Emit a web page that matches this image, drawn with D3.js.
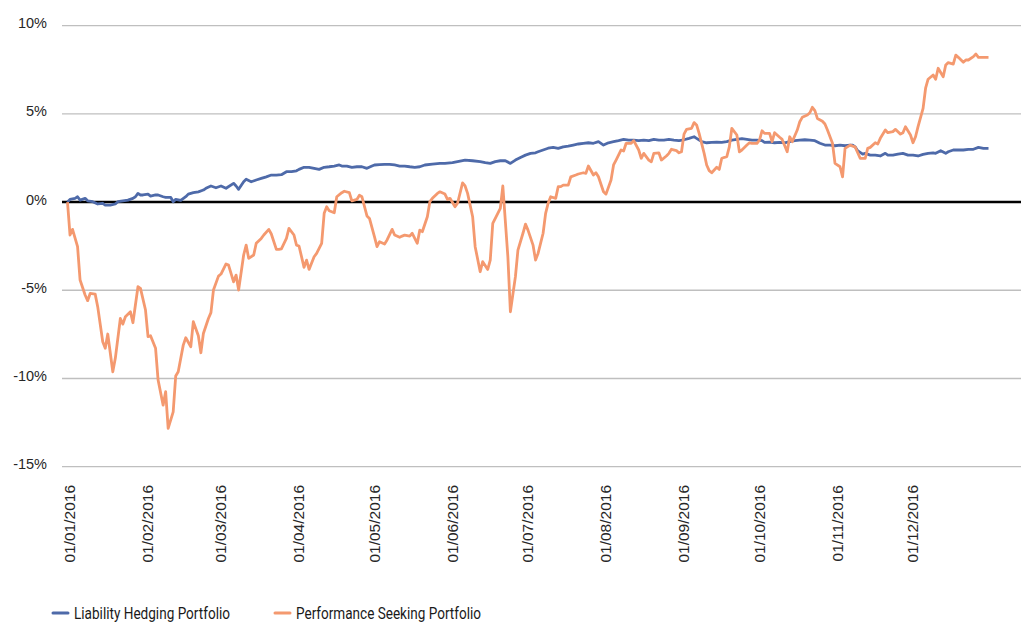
<!DOCTYPE html>
<html>
<head>
<meta charset="utf-8">
<script src="https://cdn.jsdelivr.net/npm/d3@7"></script>
<style>
  body { margin: 0; background: #fff; }
  #chart { width: 1021px; height: 623px; }
  .tick-label { font-family: "Liberation Sans", Arial, sans-serif; font-size: 14.5px; fill: #262626; }
  .x-label { font-size: 15.5px; }
  .legend-text { font-family: Roboto, "Noto Sans", sans-serif; font-size: 16px; fill: #1a1a1a; }
</style>
</head>
<body>
<div id="chart"></div>
<script>
////////////////////////////  Data  ////////////////////////////
const seriesNames = ["Liability Hedging Portfolio", "Performance Seeking Portfolio"];
const yTicks = [-15, -10, -5, 0, 5, 10];
const monthTicks = ["2016-01-01", "2016-02-01", "2016-03-01", "2016-04-01", "2016-05-01", "2016-06-01",
  "2016-07-01", "2016-08-01", "2016-09-01", "2016-10-01", "2016-11-01", "2016-12-01"];

// Liability Hedging Portfolio, cumulative return %
const lhpDates = ["2015-12-31", "2016-01-01", "2016-01-03", "2016-01-04", "2016-01-05", "2016-01-07", "2016-01-08",
  "2016-01-10", "2016-01-12", "2016-01-14", "2016-01-15", "2016-01-17", "2016-01-19", "2016-01-20", "2016-01-22",
  "2016-01-24", "2016-01-26", "2016-01-27", "2016-01-28", "2016-01-29", "2016-01-30", "2016-02-01", "2016-02-02",
  "2016-02-04", "2016-02-05", "2016-02-07", "2016-02-08", "2016-02-10", "2016-02-11", "2016-02-12", "2016-02-14",
  "2016-02-16", "2016-02-17", "2016-02-19", "2016-02-21", "2016-02-23", "2016-02-24", "2016-02-26", "2016-02-28",
  "2016-03-01", "2016-03-03", "2016-03-06", "2016-03-07", "2016-03-08", "2016-03-10", "2016-03-11", "2016-03-13",
  "2016-03-15", "2016-03-17", "2016-03-19", "2016-03-21", "2016-03-23", "2016-03-25", "2016-03-27", "2016-03-29",
  "2016-03-31", "2016-04-01", "2016-04-03", "2016-04-05", "2016-04-07", "2016-04-09", "2016-04-11", "2016-04-13",
  "2016-04-15", "2016-04-17", "2016-04-18", "2016-04-20", "2016-04-22", "2016-04-24", "2016-04-26", "2016-04-28",
  "2016-04-30", "2016-05-01", "2016-05-03", "2016-05-05", "2016-05-07", "2016-05-09", "2016-05-11", "2016-05-13",
  "2016-05-15", "2016-05-17", "2016-05-19", "2016-05-21", "2016-05-24", "2016-05-27", "2016-05-29", "2016-06-01",
  "2016-06-04", "2016-06-06", "2016-06-09", "2016-06-12", "2016-06-14", "2016-06-16", "2016-06-18", "2016-06-20",
  "2016-06-22", "2016-06-24", "2016-06-26", "2016-06-28", "2016-06-30", "2016-07-02", "2016-07-04", "2016-07-05",
  "2016-07-07", "2016-07-09", "2016-07-11", "2016-07-13", "2016-07-15", "2016-07-17", "2016-07-19", "2016-07-21",
  "2016-07-23", "2016-07-25", "2016-07-27", "2016-07-29", "2016-07-31", "2016-08-02", "2016-08-04", "2016-08-06",
  "2016-08-08", "2016-08-10", "2016-08-12", "2016-08-14", "2016-08-16", "2016-08-18", "2016-08-20", "2016-08-22",
  "2016-08-24", "2016-08-26", "2016-08-28", "2016-08-30", "2016-09-01", "2016-09-03", "2016-09-05", "2016-09-06",
  "2016-09-08", "2016-09-10", "2016-09-12", "2016-09-14", "2016-09-16", "2016-09-18", "2016-09-20", "2016-09-22",
  "2016-09-24", "2016-09-26", "2016-09-28", "2016-09-30", "2016-10-02", "2016-10-03", "2016-10-05", "2016-10-07",
  "2016-10-09", "2016-10-11", "2016-10-13", "2016-10-15", "2016-10-17", "2016-10-19", "2016-10-21", "2016-10-23",
  "2016-10-25", "2016-10-27", "2016-10-29", "2016-10-31", "2016-11-02", "2016-11-04", "2016-11-06", "2016-11-07",
  "2016-11-08", "2016-11-09", "2016-11-11", "2016-11-12", "2016-11-14", "2016-11-16", "2016-11-18", "2016-11-20",
  "2016-11-21", "2016-11-23", "2016-11-25", "2016-11-27", "2016-11-29", "2016-12-01", "2016-12-03", "2016-12-05",
  "2016-12-07", "2016-12-09", "2016-12-10", "2016-12-12", "2016-12-14", "2016-12-15", "2016-12-17", "2016-12-19",
  "2016-12-21", "2016-12-23", "2016-12-25", "2016-12-27", "2016-12-29", "2016-12-31"];
const lhpValues = [0, 0.15, 0.21, 0.30, 0.11, 0.21, 0.07,
  0.02, -0.11, -0.07, -0.17, -0.17, -0.11, 0.02, 0.07,
  0.11, 0.21, 0.30, 0.49, 0.40, 0.40, 0.45, 0.34,
  0.40, 0.40, 0.30, 0.27, 0.27, 0.02, 0.15, 0.09,
  0.30, 0.45, 0.53, 0.58, 0.68, 0.78, 0.91, 0.81,
  0.91, 0.78, 1.06, 0.91, 0.72, 1.15, 1.29, 1.15,
  1.25, 1.34, 1.43, 1.53, 1.53, 1.55, 1.72, 1.72,
  1.77, 1.85, 1.97, 1.97, 1.91, 1.85, 1.97, 2.00,
  2.04, 2.10, 2.04, 2.04, 1.97, 2.00, 2.00, 1.91,
  2.04, 2.10, 2.12, 2.14, 2.14, 2.10, 2.04, 2.04,
  2.00, 1.97, 2.00, 2.10, 2.15, 2.19, 2.19, 2.23,
  2.32, 2.38, 2.34, 2.29, 2.23, 2.19, 2.29, 2.34,
  2.34, 2.19, 2.38, 2.53, 2.66, 2.76, 2.79, 2.85,
  2.95, 3.05, 3.10, 3.04, 3.13, 3.17, 3.23, 3.29,
  3.33, 3.36, 3.33, 3.42, 3.23, 3.36, 3.42, 3.48,
  3.55, 3.51, 3.51, 3.48, 3.51, 3.48, 3.55, 3.51,
  3.51, 3.55, 3.51, 3.48, 3.53, 3.61, 3.70, 3.61,
  3.42, 3.36, 3.38, 3.40, 3.38, 3.42, 3.51, 3.55,
  3.59, 3.55, 3.51, 3.51, 3.48, 3.38, 3.40, 3.36,
  3.38, 3.36, 3.42, 3.48, 3.51, 3.53, 3.51, 3.48,
  3.33, 3.23, 3.23, 3.19, 3.23, 3.19, 3.23, 3.23,
  3.13, 2.91, 2.72, 2.76, 2.66, 2.66, 2.61, 2.76,
  2.66, 2.66, 2.72, 2.76, 2.66, 2.66, 2.61, 2.70,
  2.76, 2.79, 2.76, 2.91, 2.76, 2.85, 2.95, 2.95,
  2.95, 2.99, 2.99, 3.10, 3.04, 3.04];

// Performance Seeking Portfolio, cumulative return %
const pspDates = ["2015-12-31", "2016-01-01", "2016-01-02", "2016-01-04", "2016-01-05", "2016-01-07", "2016-01-08",
  "2016-01-09", "2016-01-11", "2016-01-12", "2016-01-14", "2016-01-15", "2016-01-16", "2016-01-18", "2016-01-19",
  "2016-01-21", "2016-01-22", "2016-01-23", "2016-01-25", "2016-01-26", "2016-01-28", "2016-01-29", "2016-01-31",
  "2016-02-01", "2016-02-02", "2016-02-04", "2016-02-05", "2016-02-07", "2016-02-08", "2016-02-09", "2016-02-11",
  "2016-02-12", "2016-02-13", "2016-02-15", "2016-02-16", "2016-02-18", "2016-02-19", "2016-02-21", "2016-02-22",
  "2016-02-23", "2016-02-25", "2016-02-26", "2016-02-27", "2016-02-29", "2016-03-01", "2016-03-03", "2016-03-04",
  "2016-03-06", "2016-03-07", "2016-03-08", "2016-03-10", "2016-03-11", "2016-03-12", "2016-03-14", "2016-03-15",
  "2016-03-17", "2016-03-18", "2016-03-20", "2016-03-21", "2016-03-23", "2016-03-24", "2016-03-25", "2016-03-27",
  "2016-03-28", "2016-03-30", "2016-03-31", "2016-04-01", "2016-04-03", "2016-04-04", "2016-04-05", "2016-04-07",
  "2016-04-08", "2016-04-10", "2016-04-11", "2016-04-12", "2016-04-13", "2016-04-15", "2016-04-16", "2016-04-18",
  "2016-04-19", "2016-04-21", "2016-04-22", "2016-04-24", "2016-04-25", "2016-04-26", "2016-04-28", "2016-04-29",
  "2016-05-01", "2016-05-02", "2016-05-03", "2016-05-05", "2016-05-06", "2016-05-08", "2016-05-09", "2016-05-11",
  "2016-05-12", "2016-05-13", "2016-05-15", "2016-05-16", "2016-05-18", "2016-05-19", "2016-05-20", "2016-05-22",
  "2016-05-23", "2016-05-24", "2016-05-26", "2016-05-27", "2016-05-29", "2016-05-30", "2016-05-31", "2016-06-02",
  "2016-06-03", "2016-06-05", "2016-06-06", "2016-06-07", "2016-06-09", "2016-06-10", "2016-06-12", "2016-06-13",
  "2016-06-15", "2016-06-16", "2016-06-17", "2016-06-19", "2016-06-20", "2016-06-21", "2016-06-23", "2016-06-24",
  "2016-06-26", "2016-06-27", "2016-06-29", "2016-06-30", "2016-07-01", "2016-07-03", "2016-07-04", "2016-07-05",
  "2016-07-07", "2016-07-08", "2016-07-09", "2016-07-10", "2016-07-12", "2016-07-13", "2016-07-14", "2016-07-15",
  "2016-07-17", "2016-07-18", "2016-07-20", "2016-07-21", "2016-07-23", "2016-07-24", "2016-07-25", "2016-07-27",
  "2016-07-28", "2016-07-29", "2016-07-31", "2016-08-01", "2016-08-03", "2016-08-04", "2016-08-05", "2016-08-07",
  "2016-08-08", "2016-08-09", "2016-08-11", "2016-08-12", "2016-08-14", "2016-08-15", "2016-08-16", "2016-08-18",
  "2016-08-19", "2016-08-20", "2016-08-22", "2016-08-23", "2016-08-25", "2016-08-26", "2016-08-27", "2016-08-29",
  "2016-08-30", "2016-08-31", "2016-09-01", "2016-09-02", "2016-09-04", "2016-09-05", "2016-09-06", "2016-09-07",
  "2016-09-09", "2016-09-10", "2016-09-11", "2016-09-12", "2016-09-14", "2016-09-15", "2016-09-16", "2016-09-18",
  "2016-09-19", "2016-09-20", "2016-09-22", "2016-09-23", "2016-09-24", "2016-09-26", "2016-09-27", "2016-09-28",
  "2016-09-30", "2016-10-01", "2016-10-02", "2016-10-03", "2016-10-05", "2016-10-06", "2016-10-07", "2016-10-09",
  "2016-10-10", "2016-10-12", "2016-10-13", "2016-10-14", "2016-10-16", "2016-10-17", "2016-10-18", "2016-10-20",
  "2016-10-21", "2016-10-22", "2016-10-23", "2016-10-24", "2016-10-26", "2016-10-27", "2016-10-28", "2016-10-30",
  "2016-10-31", "2016-11-02", "2016-11-03", "2016-11-04", "2016-11-06", "2016-11-07", "2016-11-08", "2016-11-10",
  "2016-11-12", "2016-11-13", "2016-11-14", "2016-11-16", "2016-11-17", "2016-11-18", "2016-11-20", "2016-11-21",
  "2016-11-23", "2016-11-24", "2016-11-26", "2016-11-27", "2016-11-28", "2016-11-30", "2016-12-01", "2016-12-02",
  "2016-12-03", "2016-12-05", "2016-12-06", "2016-12-07", "2016-12-09", "2016-12-10", "2016-12-11", "2016-12-13",
  "2016-12-14", "2016-12-15", "2016-12-17", "2016-12-18", "2016-12-19", "2016-12-21", "2016-12-22", "2016-12-23",
  "2016-12-25", "2016-12-26", "2016-12-27", "2016-12-29", "2016-12-31"];
const pspValues = [0, -1.87, -1.55, -2.53, -4.42, -5.27, -5.59,
  -5.18, -5.22, -5.93, -7.92, -8.29, -7.48, -9.62, -8.86,
  -6.60, -6.92, -6.50, -6.22, -6.84, -4.80, -4.89, -6.12,
  -7.63, -7.58, -8.29, -10.09, -11.51, -10.75, -12.83, -11.89,
  -9.86, -9.62, -8.11, -7.69, -8.20, -6.78, -7.58, -8.54,
  -7.45, -6.60, -6.27, -4.99, -4.20, -4.08, -3.51, -3.57,
  -4.52, -4.14, -4.99, -3.00, -2.44, -3.19, -3.00, -2.34,
  -2.06, -1.87, -1.55, -1.81, -2.68, -2.68, -2.65, -2.06,
  -1.49, -1.87, -2.44, -2.49, -3.70, -3.29, -3.82, -3.10,
  -2.91, -2.34, -0.64, -0.27, -0.49, -0.61, 0.30, 0.53,
  0.61, 0.53, 0.07, 0.15, 0.38, 0.30, -0.79, -0.93,
  -1.97, -2.53, -2.25, -2.38, -2.15, -1.55, -1.87, -2.00,
  -1.93, -1.87, -1.93, -1.77, -2.34, -1.59, -1.68, -0.83,
  0.02, 0.21, 0.49, 0.58, 0.45, 0.15, 0.21, -0.27,
  -0.07, 1.09, 0.91, 0.49, -0.83, -2.53, -3.95, -3.38,
  -3.82, -3.29, -1.21, -0.64, -0.36, 0.91, -3.10, -6.22,
  -4.23, -2.72, -1.77, -1.25, -1.59, -2.44, -3.29, -2.91,
  -1.77, -0.64, -0.07, 0.30, 0.21, 0.87, 0.87, 0.96,
  0.96, 1.43, 1.53, 1.59, 1.66, 1.63, 2.04, 1.53,
  1.66, 1.43, 0.58, 0.45, 1.25, 2.10, 2.38, 2.95,
  2.89, 3.33, 3.33, 3.48, 2.95, 2.48, 2.76, 2.38,
  2.28, 2.76, 2.79, 2.38, 2.61, 2.76, 2.99, 2.91,
  2.79, 2.85, 3.85, 4.12, 4.18, 4.50, 4.37, 3.89,
  2.76, 2.10, 1.78, 1.66, 1.97, 1.85, 2.48, 2.57,
  3.13, 4.18, 3.80, 2.85, 2.95, 3.23, 3.36, 3.33,
  3.33, 3.51, 4.04, 3.89, 3.89, 3.42, 3.93, 3.67,
  3.55, 2.85, 3.70, 3.42, 4.08, 4.55, 4.80, 4.93,
  5.06, 5.37, 5.18, 4.74, 4.58, 4.42, 4.08, 3.33,
  2.19, 2.00, 1.43, 3.04, 3.23, 3.17, 3.13, 2.48,
  2.48, 3.04, 3.10, 3.36, 3.29, 3.61, 4.08, 3.93,
  3.99, 4.12, 3.85, 3.93, 4.27, 3.80, 3.36, 3.70,
  4.27, 5.31, 6.45, 6.96, 7.20, 6.96, 7.58, 7.10,
  7.77, 7.90, 7.82, 8.33, 8.20, 7.92, 8.05, 8.05,
  8.24, 8.39, 8.20, 8.20, 8.20];

////////////////////////////  Init  ////////////////////////////
const width = 1021;
const height = 623;
const colors = ["#4e6aa9", "#f4996f"];

const svg = d3.select("#chart").append("svg")
  .attr("width", width)
  .attr("height", height);

const parseDate = d3.timeParse("%Y-%m-%d");
const formatTick = d3.timeFormat("%d/%m/%Y");

const series = [
  { name: seriesNames[0], values: lhpDates.map((d, i) => ({ date: parseDate(d), value: lhpValues[i] })) },
  { name: seriesNames[1], values: pspDates.map((d, i) => ({ date: parseDate(d), value: pspValues[i] })) }
];

// scales
const xScale = d3.scaleTime()
  .domain([parseDate("2015-12-31"), parseDate("2016-12-31")])
  .range([67.5, 988.5]);
const yScale = d3.scaleLinear().domain([-15, 10]).range([466.7, 25.6]);

// gridlines
svg.append("g")
  .selectAll("line")
  .data(yTicks.filter((d) => d !== 0))
  .join("line")
  .attr("x1", 62)
  .attr("x2", width)
  .attr("y1", (d) => yScale(d))
  .attr("y2", (d) => yScale(d))
  .attr("stroke", "#bfbfbf")
  .attr("stroke-width", 1.3);

// y labels
svg.append("g")
  .selectAll("text")
  .data(yTicks)
  .join("text")
  .attr("class", "tick-label")
  .attr("x", 47)
  .attr("y", (d) => yScale(d))
  .attr("dy", "0.18em")
  .attr("text-anchor", "end")
  .text((d) => d + "%");

// zero line
svg.append("line")
  .attr("x1", 62)
  .attr("x2", width)
  .attr("y1", yScale(0))
  .attr("y2", yScale(0))
  .attr("stroke", "#000")
  .attr("stroke-width", 2.5);

// x labels
svg.append("g")
  .selectAll("text")
  .data(monthTicks.map(parseDate))
  .join("text")
  .attr("class", "tick-label x-label")
  .attr("transform", (d) => `translate(${xScale(d)}, 485) rotate(-90)`)
  .attr("dy", "0.35em")
  .attr("text-anchor", "end")
  .text((d) => formatTick(d));

// lines
const line = d3.line()
  .x((d) => xScale(d.date))
  .y((d) => yScale(d.value));

svg.append("g")
  .selectAll("path")
  .data(series)
  .join("path")
  .attr("d", (d) => line(d.values))
  .attr("fill", "none")
  .attr("stroke", (d, i) => colors[i])
  .attr("stroke-width", 2.8)
  .attr("stroke-linejoin", "round");

// legend
const legendX = [53, 275];
const legendW = [156, 185];
const legend = svg.append("g")
  .selectAll("g")
  .data(seriesNames)
  .join("g")
  .attr("transform", (d, i) => `translate(${legendX[i]}, 613)`);

legend.append("line")
  .attr("x1", 0)
  .attr("x2", 15)
  .attr("stroke", (d, i) => colors[i])
  .attr("stroke-width", 3)
  .attr("stroke-linecap", "round");

legend.append("text")
  .attr("class", "legend-text")
  .attr("x", 21)
  .attr("y", 5.5)
  .attr("textLength", (d, i) => legendW[i])
  .attr("lengthAdjust", "spacingAndGlyphs")
  .text((d) => d);
</script>
</body>
</html>
